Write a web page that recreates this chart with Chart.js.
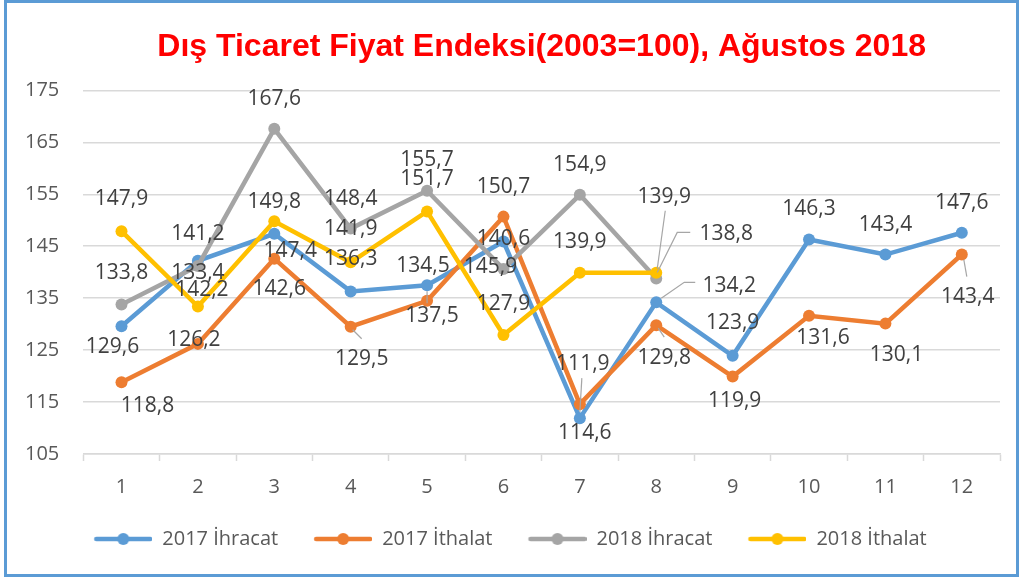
<!DOCTYPE html>
<html>
<head>
<meta charset="utf-8">
<script src="https://cdn.jsdelivr.net/npm/chart.js@4"></script>
<style>
  body { margin: 0; background: #fff; }
  #wrap { position: relative; width: 1022px; height: 579px; }
  #frame { position: absolute; left: 4px; top: 0; width: 1015px; height: 577px; border: 3px solid #5b9bd5; box-sizing: border-box; pointer-events: none; }
</style>
</head>
<body>
<div id="wrap">
  <canvas id="chart"></canvas>
  <div id="frame"></div>
</div>
<script>
const months = ["1", "2", "3", "4", "5", "6", "7", "8", "9", "10", "11", "12"];
const ihracat2017 = [129.6, 142.2, 147.4, 136.3, 137.5, 145.9, 111.9, 134.2, 123.9, 146.3, 143.4, 147.6];
const ithalat2017 = [118.8, 126.2, 142.6, 129.5, 134.5, 150.7, 114.6, 129.8, 119.9, 131.6, 130.1, 143.4];
const ihracat2018 = [133.8, 141.2, 167.6, 148.4, 155.7, 140.6, 154.9, 138.8];
const ithalat2018 = [147.9, 133.4, 149.8, 141.9, 151.7, 127.9, 139.9, 139.9];

// label placement (pixel offsets from each point), like the moved Excel labels
const labelOffsets = [
  [[-9, 21], [4, 29], [16, 17], [0, -32], [5, 31], [-13, 25], [3, -54], [73, -16], [0, -33], [0, -30], [0, -30], [0, -30]],
  [[26, 24], [-4, -4], [5, 30], [11, 32], [-4, -35], [0, -30], [5, 29], [8, 33], [2, 24], [14, 22], [11, 31], [6, 42]],
  [[0, -31], [0, -32], [0, -30], [0, -30], [0, -31], [0, -30], [0, -30], [70, -44]],
  [[0, -32], [0, -33], [0, -19], [0, -33], [0, -32], [0, -31], [0, -31], [8, -76]],
];
const leaders = [
  { 4: [[0, 6], [0, 18]], 6: [[0, -6], [2, -40]], 7: [[5, -4], [28, -20], [39, -20]] },
  { 3: [[2, 3], [11, 12]], 7: [[2, 3], [8, 12]], 11: [[2, 5], [5, 22]] },
  { 7: [[1, -6], [21, -46], [34, -46]] },
  { 7: [[1, -4], [9, -62]] },
];

const colors = ["#5B9BD5", "#ED7D31", "#A5A5A5", "#FFC000"];
const names = ["2017 İhracat", "2017 İthalat", "2018 İhracat", "2018 İthalat"];
const series = [ihracat2017, ithalat2017, ihracat2018, ithalat2018];

// legend marker: line with a dot, with some blank room on the left as item spacing
function legendIcon(color) {
  const c = document.createElement("canvas");
  c.width = 78;
  c.height = 14;
  const g = c.getContext("2d");
  g.strokeStyle = color;
  g.lineWidth = 4.5;
  g.lineCap = "round";
  g.beginPath();
  g.moveTo(22, 7);
  g.lineTo(76, 7);
  g.stroke();
  g.fillStyle = color;
  g.beginPath();
  g.arc(49, 7, 6, 0, Math.PI * 2);
  g.fill();
  return c;
}

const valueLabels = {
  id: "valueLabels",
  afterDatasetsDraw(chart) {
    const ctx = chart.ctx;
    ctx.save();
    chart.data.datasets.forEach((ds, i) => {
      const meta = chart.getDatasetMeta(i);
      meta.data.forEach((pt, j) => {
        const lead = leaders[i][j];
        if (lead) {
          ctx.strokeStyle = "#a6a6a6";
          ctx.lineWidth = 1.2;
          ctx.beginPath();
          lead.forEach((p, k) => {
            if (k === 0) ctx.moveTo(pt.x + p[0], pt.y + p[1]);
            else ctx.lineTo(pt.x + p[0], pt.y + p[1]);
          });
          ctx.stroke();
        }
        const off = labelOffsets[i][j];
        ctx.fillStyle = "#404040";
        ctx.font = "21px 'Open Sans'";
        ctx.textAlign = "center";
        ctx.textBaseline = "middle";
        ctx.fillText(ds.data[j].toFixed(1).replace(".", ","), pt.x + off[0], pt.y + off[1]);
      });
    });
    ctx.restore();
  },
};

const datasets = series.map((values, i) => ({
  label: names[i],
  data: values,
  borderColor: colors[i],
  backgroundColor: colors[i],
  borderWidth: 4.5,
  pointRadius: 6,
  pointHoverRadius: 6,
  pointBorderWidth: 0,
  tension: 0,
  order: 3 - i,
}));

const chart = new Chart(document.getElementById("chart"), {
  type: "line",
  data: { labels: months, datasets: datasets },
  options: {
    responsive: true,
    maintainAspectRatio: false,
    animation: false,
    layout: { padding: { left: 1, right: 22, top: 0, bottom: 20 } },
    scales: {
      x: {
        offset: true,
        grid: { offset: true, drawOnChartArea: false, drawTicks: true, tickLength: 7, tickColor: "#d9d9d9", tickWidth: 1.5 },
        border: { display: true, color: "#d9d9d9", width: 1.5 },
        ticks: { color: "#595959", font: { family: "'Open Sans'", size: 20 }, padding: 14 },
      },
      y: {
        min: 105,
        max: 175,
        grid: { color: "#d9d9d9", lineWidth: 1.5, drawTicks: false },
        border: { display: false },
        ticks: { stepSize: 10, color: "#595959", font: { family: "'Open Sans'", size: 20 }, padding: 24 },
      },
    },
    plugins: {
      title: {
        display: true,
        fullSize: false,
        text: "Dış Ticaret Fiyat Endeksi(2003=100), Ağustos 2018",
        color: "#ff0000",
        font: { family: "'Liberation Sans', Arial", size: 32, weight: "bold" },
        padding: { top: 28, bottom: 24 },
      },
      legend: {
        position: "bottom",
        labels: {
          usePointStyle: true,
          pointStyleWidth: 78,
          padding: 16,
          color: "#595959",
          font: { family: "'Open Sans'", size: 20 },
          generateLabels(chart) {
            return chart.data.datasets.map((ds, i) => ({
              text: ds.label,
              pointStyle: legendIcon(colors[i]),
              fillStyle: colors[i],
              strokeStyle: colors[i],
              lineWidth: 0,
              hidden: false,
              datasetIndex: i,
              fontColor: "#595959",
            }));
          },
        },
      },
      tooltip: { enabled: false },
    },
  },
  plugins: [valueLabels],
});
</script>
</body>
</html>
